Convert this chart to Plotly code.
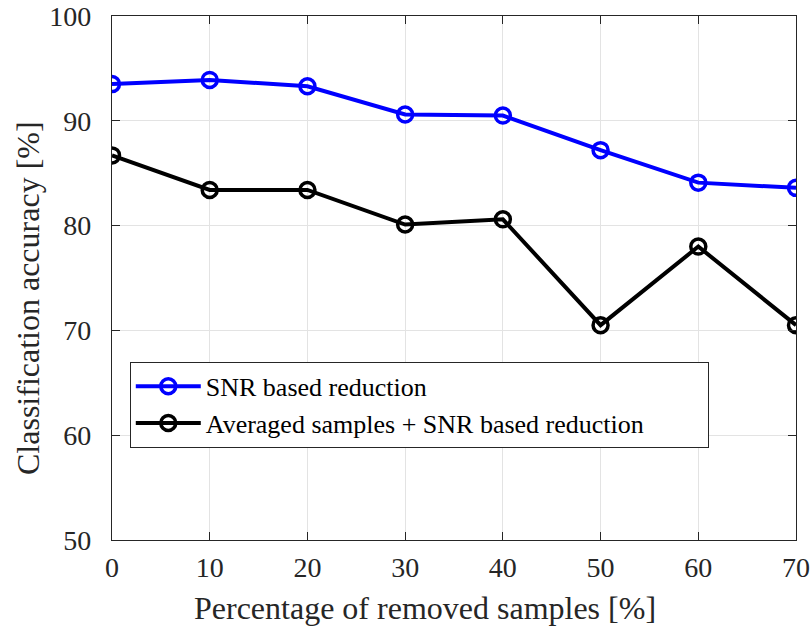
import plotly.graph_objects as go

x_vals = [0, 10, 20, 30, 40, 50, 60, 70]
snr_based = [93.5, 93.9, 93.3, 90.6, 90.5, 87.2, 84.1, 83.6]
averaged_snr = [86.7, 83.4, 83.4, 80.1, 80.6, 70.5, 78.0, 70.5]
names = ["SNR based reduction", "Averaged samples + SNR based reduction"]
y_ticks = [50, 60, 70, 80, 90, 100]
x_title = "Percentage of removed samples [%]"
y_title = "Classification accuracy [%]"

FONT = "Liberation Serif"
fig = go.Figure()
pad = "\u00a0" * 9
for y, name, col in [(snr_based, names[0], "#0000ff"), (averaged_snr, names[1] + pad, "#000000")]:
    fig.add_trace(go.Scatter(
        x=x_vals, y=y, name=name, mode="lines+markers",
        line=dict(color=col, width=4),
        marker=dict(symbol="circle-open", size=15, color=col, line=dict(width=3.5, color=col)),
    ))

axis_common = dict(
    showline=True, linecolor="#262626", linewidth=1.3, mirror="ticks",
    ticks="inside", ticklen=8, tickcolor="#262626",
    showgrid=True, gridcolor="#e3e3e3", gridwidth=1, zeroline=False,
    tickfont=dict(family=FONT, size=28, color="#262626"),
    automargin=False,
)
fig.update_xaxes(range=[0, 70], tickvals=x_vals, ticklabelstandoff=2, **axis_common)
fig.update_yaxes(range=[50, 100], tickvals=y_ticks, ticklabelstandoff=14, **axis_common)

fig.add_annotation(text=x_title, xref="paper", yref="paper", x=0.5, y=0,
                   xanchor="center", yanchor="middle", xshift=-29, yshift=-68,
                   showarrow=False, font=dict(family=FONT, size=32, color="#262626"))
fig.add_annotation(text=y_title, xref="paper", yref="paper", x=0, y=0.5,
                   xanchor="center", yanchor="middle", xshift=-84, yshift=-20,
                   textangle=-90, showarrow=False, font=dict(family=FONT, size=32, color="#262626"))

fig.update_layout(
    width=812, height=631, autosize=False,
    margin=dict(l=112, r=16, t=16, b=91),
    plot_bgcolor="white", paper_bgcolor="white",
    font=dict(family=FONT, color="#262626"),
    legend=dict(x=0.026, y=0.34, xanchor="left", yanchor="top",
                bgcolor="white", bordercolor="#262626", borderwidth=1,
                font=dict(family=FONT, size=26, color="#000000"),
                itemwidth=65, tracegroupgap=0),
    showlegend=True,
)
fig.write_html("out.html")
